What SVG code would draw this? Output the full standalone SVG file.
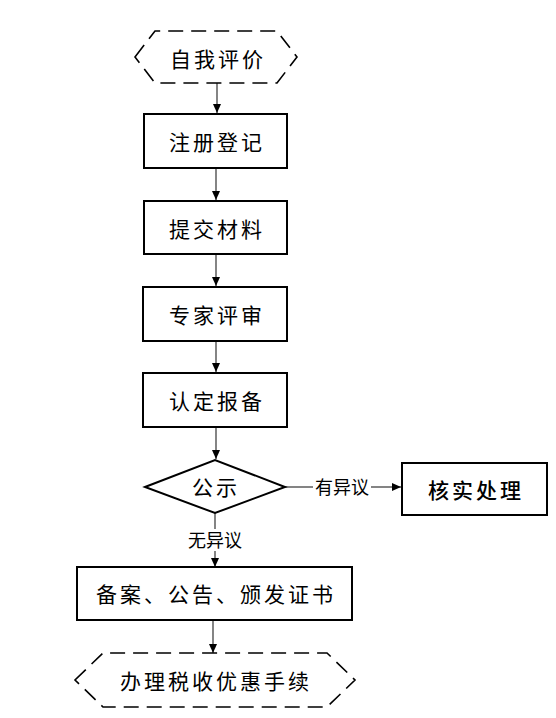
<svg xmlns="http://www.w3.org/2000/svg" width="556" height="718" viewBox="0 0 556 718">
<style>
.box{fill:#fff;stroke:#000;stroke-width:2}
.hex{fill:#fff;stroke:#000;stroke-width:1.6;stroke-dasharray:15 8}
.t{font-family:"Noto Sans CJK SC","Noto Sans",sans-serif;font-size:21px;letter-spacing:3px;text-anchor:middle;dominant-baseline:central;fill:#000}
.lbl{font-family:"Noto Sans CJK SC","Noto Sans",sans-serif;font-size:18px;text-anchor:middle;dominant-baseline:central;fill:#000}
.c{stroke:#333;stroke-width:1.2;fill:none}
</style>
<defs>
<marker id="ah" markerWidth="10" markerHeight="10" refX="9" refY="5" orient="auto" markerUnits="userSpaceOnUse">
<path d="M0,1 L9,5 L0,9 Z" fill="#000"/>
</marker>
</defs>
<rect width="556" height="718" fill="#fff"/>
<g id="connectors">
<line class="c" x1="217" y1="83" x2="217" y2="113" marker-end="url(#ah)"/>
<line class="c" x1="216" y1="168" x2="216" y2="200" marker-end="url(#ah)"/>
<line class="c" x1="216" y1="254" x2="216" y2="286" marker-end="url(#ah)"/>
<line class="c" x1="216" y1="341" x2="216" y2="372" marker-end="url(#ah)"/>
<line class="c" x1="216" y1="427" x2="216" y2="459" marker-end="url(#ah)"/>
<line class="c" x1="285" y1="487" x2="313" y2="487"/>
<line class="c" x1="371" y1="487" x2="401" y2="487" marker-end="url(#ah)"/>
<text class="lbl" x="342" y="486">有异议</text>
<line class="c" x1="215" y1="513" x2="215" y2="529"/>
<line class="c" x1="215" y1="551" x2="215" y2="567" marker-end="url(#ah)"/>
<text class="lbl" x="215" y="539">无异议</text>
<line class="c" x1="213" y1="620" x2="213" y2="653" marker-end="url(#ah)"/>
</g>
<g id="n1">
<polygon class="hex" points="135,57 155,31 277,31 297,57 277,83 155,83"/>
<text class="t" x="218" y="58">自我评价</text>
</g>
<g id="n2">
<rect class="box" x="144" y="114" width="143" height="54"/>
<text class="t" x="217" y="141">注册登记</text>
</g>
<g id="n3">
<rect class="box" x="144" y="201" width="143" height="53"/>
<text class="t" x="217" y="228">提交材料</text>
</g>
<g id="n4">
<rect class="box" x="143" y="287" width="144" height="54"/>
<text class="t" x="217" y="314">专家评审</text>
</g>
<g id="n5">
<rect class="box" x="143" y="373" width="144" height="54"/>
<text class="t" x="217" y="400">认定报备</text>
</g>
<g id="n6">
<polygon class="box" points="145,487 215,460 285,487 215,513"/>
<text class="t" x="216" y="486">公示</text>
</g>
<g id="n7">
<rect class="box" x="402" y="463" width="145" height="52"/>
<text class="t" x="476" y="489" style="font-weight:500">核实处理</text>
</g>
<g id="n8">
<rect class="box" x="77" y="567" width="275" height="53"/>
<text class="t" x="216" y="593">备案、公告、颁发证书</text>
</g>
<g id="n9">
<polygon class="hex" points="75,680 103,653 327,653 355,680 327,707 103,707"/>
<text class="t" x="216" y="680">办理税收优惠手续</text>
</g>
</svg>
